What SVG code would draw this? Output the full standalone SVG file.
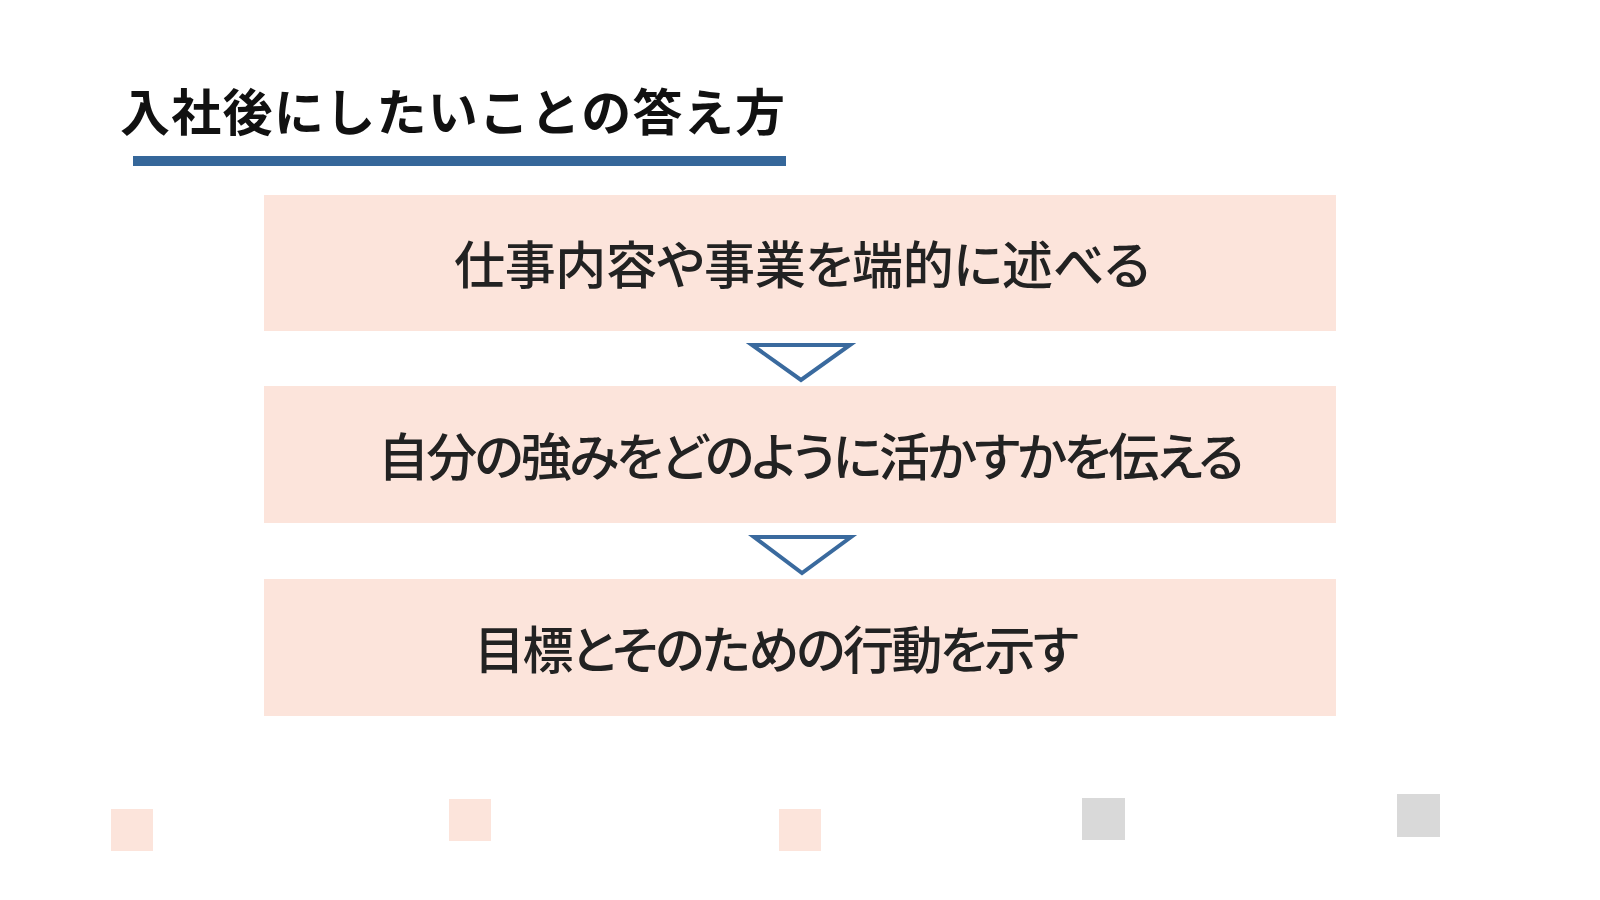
<svg xmlns="http://www.w3.org/2000/svg" width="1600" height="900" viewBox="0 0 1600 900">
  <style>
    .title { font-family: "Noto Sans CJK JP", "Noto Sans", sans-serif; font-size: 50px; font-weight: bold; fill: #111111; }
    .box { fill: #FCE4DB; }
    .label { font-family: "Noto Sans CJK JP", "Noto Sans", sans-serif; font-size: 51px; font-weight: 500; fill: #222222; font-feature-settings: "palt"; }
    .arrow { fill: none; stroke: #3A6A9E; stroke-width: 4; stroke-linejoin: miter; }
    .peach { fill: #FCE4DB; }
    .gray { fill: #D9D9D9; }
  </style>
  <rect width="1600" height="900" fill="#FFFFFF"/>

  <g id="title">
    <text class="title" x="120" y="131" textLength="665" lengthAdjust="spacing">入社後にしたいことの答え方</text>
    <rect x="133" y="156" width="653" height="10" fill="#35679A"/>
  </g>

  <g id="node1">
    <rect class="box" x="264" y="195" width="1072" height="136"/>
    <text class="label" x="454" y="284" textLength="696" lengthAdjust="spacing">仕事内容や事業を端的に述べる</text>
  </g>

  <g id="node2">
    <rect class="box" x="264" y="386" width="1072" height="137"/>
    <text class="label" x="378" y="476" textLength="866" lengthAdjust="spacing">自分の強みをどのように活かすかを伝える</text>
  </g>

  <g id="node3">
    <rect class="box" x="264" y="579" width="1072" height="137"/>
    <text class="label" x="474" y="669" textLength="605" lengthAdjust="spacing">目標とそのための行動を示す</text>
  </g>

  <g id="connectors">
    <polygon class="arrow" points="752,345 850,345 801,380"/>
    <polygon class="arrow" points="754,537 851,537 802,573"/>
  </g>

  <g id="legend">
    <rect class="peach" x="111" y="809" width="42" height="42"/>
    <rect class="peach" x="449" y="799" width="42" height="42"/>
    <rect class="peach" x="779" y="809" width="42" height="42"/>
    <rect class="gray" x="1082" y="798" width="43" height="42"/>
    <rect class="gray" x="1397" y="794" width="43" height="43"/>
  </g>
</svg>
